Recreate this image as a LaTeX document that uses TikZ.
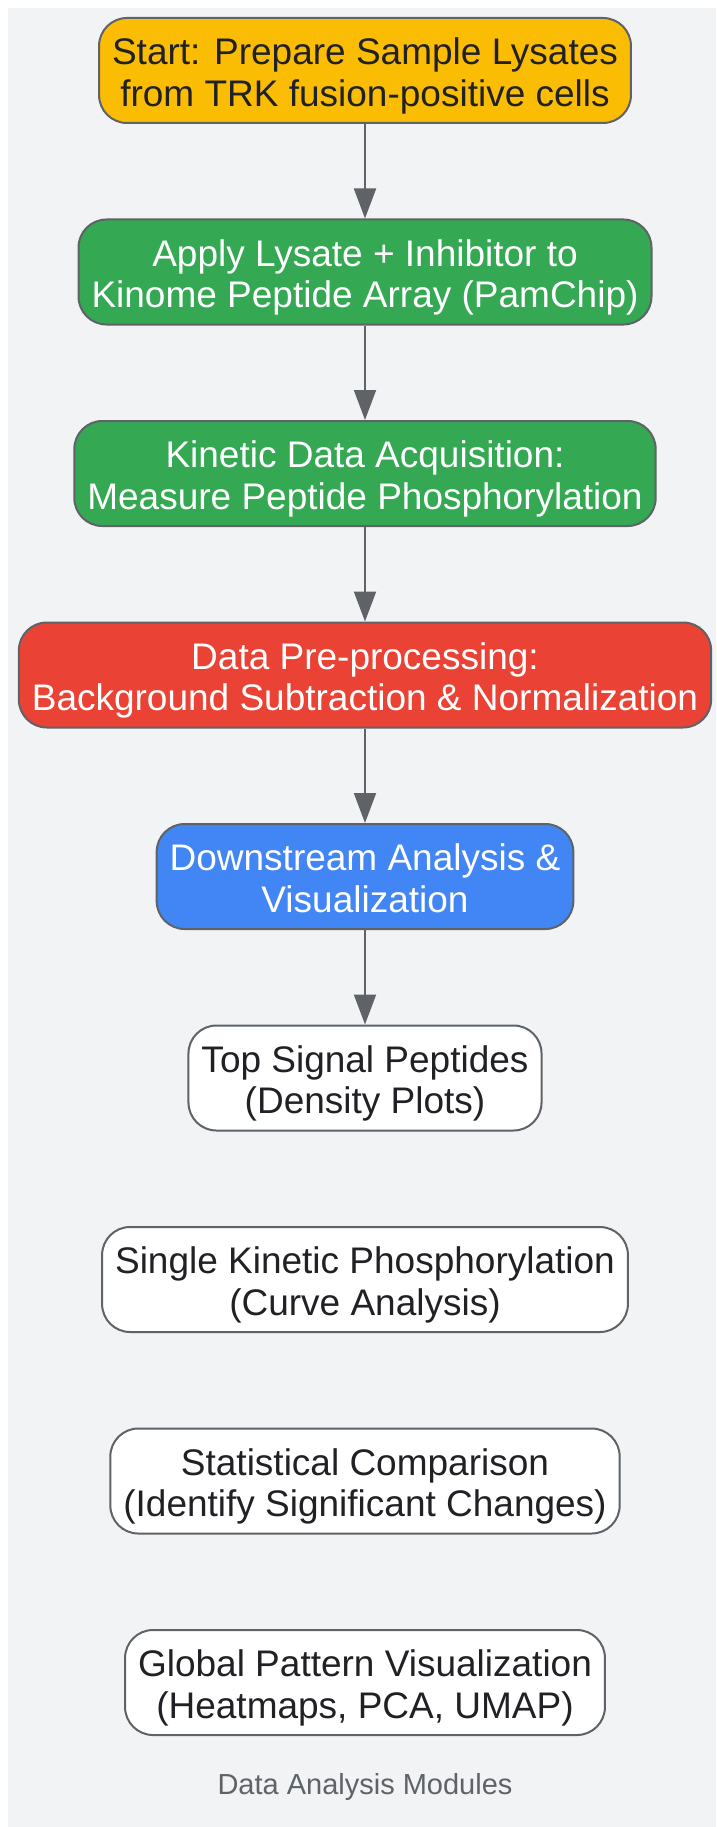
\documentclass[tikz,border=0pt]{standalone}
\usepackage{fontspec}
\setmainfont{Liberation Sans}
\usetikzlibrary{arrows.meta,positioning}
\definecolor{edgec}{HTML}{5F6368}
\definecolor{clusterbg}{HTML}{F1F3F4}
\definecolor{startc}{HTML}{FBBC04}
\definecolor{greenc}{HTML}{34A853}
\definecolor{redc}{HTML}{EA4335}
\definecolor{bluec}{HTML}{4285F4}
\definecolor{textc}{HTML}{202124}
\tikzset{
  >={Triangle[length=30pt,width=22pt]},
  box/.style={draw=edgec,line width=2pt,rounded corners=28pt,minimum height=105pt,inner xsep=13pt,inner ysep=0pt,
    align=center,text height=80pt,text depth=8.5pt,font=\fontsize{37}{41.5}\selectfont,text=textc},
  startbox/.style={box,fill=startc},
  labbox/.style={box,fill=greenc,text=white},
  prebox/.style={box,fill=redc,text=white},
  anabox/.style={box,fill=bluec,text=white},
  modbox/.style={box,fill=white},
  flow/.style={->,draw=edgec,line width=2pt},
  clabel/.style={font=\fontsize{29}{32}\selectfont,text=edgec},
}

\begin{document}
\begin{tikzpicture}[node distance=94.5pt]
  \useasboundingbox (0,0) rectangle (716pt,-1827pt);
  % cluster background
  \fill[clusterbg] (8pt,-8pt) rectangle (716pt,-1827pt);

  \node[startbox] (prep) at (365pt,-70.5pt) {Start: Prepare Sample Lysates\\from TRK fusion-positive cells};
  \node[labbox,below=of prep] (apply) {Apply Lysate + Inhibitor to\\Kinome Peptide Array (PamChip)};
  \node[labbox,below=of apply] (acquire) {Kinetic Data Acquisition:\\Measure Peptide Phosphorylation};
  \node[prebox,below=of acquire] (preproc) {Data Pre-processing:\\Background Subtraction \& Normalization};
  \node[anabox,below=of preproc] (downstream) {Downstream Analysis \&\\Visualization};

  % analysis modules
  \node[modbox,below=of downstream] (topsig) {Top Signal Peptides\\(Density Plots)};
  \node[modbox,below=of topsig] (kinetic) {Single Kinetic Phosphorylation\\(Curve Analysis)};
  \node[modbox,below=of kinetic] (stats) {Statistical Comparison\\(Identify Significant Changes)};
  \node[modbox,below=of stats] (globalviz) {Global Pattern Visualization\\(Heatmaps, PCA, UMAP)};
  \node[clabel] (modlabel) at (365pt,-1787pt) {Data Analysis Modules};

  \draw[flow] (prep) -- (apply);
  \draw[flow] (apply) -- (acquire);
  \draw[flow] (acquire) -- (preproc);
  \draw[flow] (preproc) -- (downstream);
  \draw[flow] (downstream) -- (topsig);
\end{tikzpicture}
\end{document}
